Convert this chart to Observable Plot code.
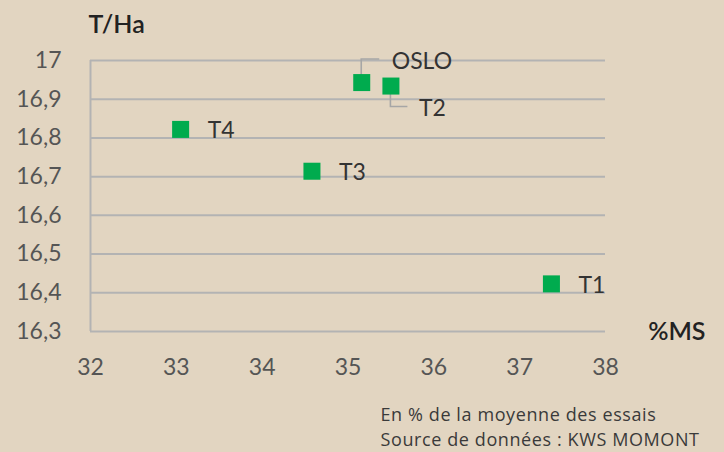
<!DOCTYPE html>
<html>
<head>
<meta charset="utf-8">
<script src="https://cdn.jsdelivr.net/npm/d3@7"></script>
<script src="https://cdn.jsdelivr.net/npm/@observablehq/plot@0.6"></script>
<style>
  html, body { margin: 0; padding: 0; background: #e2d5c1; }
  #chart svg { display: block; }
  .caption text { letter-spacing: 0.6px; }
</style>
</head>
<body>
<div id="chart"></div>
<script>
// Data
const names = ["OSLO", "T2", "T4", "T3", "T1"];
const ms = [35.16, 35.50, 33.05, 34.58, 37.37];
const tha = [16.943, 16.934, 16.822, 16.714, 16.423];
const xTicks = [32, 33, 34, 35, 36, 37, 38];
const yTicks = [16.3, 16.4, 16.5, 16.6, 16.7, 16.8, 16.9, 17];
const yLabel = "T/Ha";
const xLabel = "%MS";
const captionLines = ["En % de la moyenne des essais", "Source de données : KWS MOMONT"];

const pts = names.map((n, i) => ({name: n, x: ms[i], y: tha[i]}));
const fmt = d => String(d).replace(".", ",");

// label placement style (pixel offsets from point)
const callout = {OSLO: {dx: 30, dy: -22, lead: [[0, 0], [0, -23], [18, -23]]},
                 T2:   {dx: 28, dy: 22,  lead: [[0, 0], [0, 21], [17, 21]]}};
const plainDx = 27;

const leaders = (index, scales) => {
  const g = d3.create("svg:g");
  pts.forEach(p => {
    const c = callout[p.name];
    if (!c) return;
    const px = scales.x(p.x), py = scales.y(p.y);
    g.append("path")
      .attr("d", d3.line()(c.lead.map(([a, b]) => [px + a, py + b])))
      .attr("fill", "none").attr("stroke", "#a6a6a6").attr("stroke-width", 1.6);
  });
  return g.node();
};

const font = "Lato, 'Open Sans', sans-serif";

const chart = Plot.plot({
  width: 724,
  height: 452,
  marginLeft: 90,
  marginRight: 119,
  marginTop: 60,
  marginBottom: 121,
  style: {background: "#e2d5c1", fontFamily: font, overflow: "visible"},
  x: {domain: [32, 38]},
  y: {domain: [16.3, 17]},
  marks: [
    Plot.gridY(yTicks, {stroke: "#b3b3b3", strokeOpacity: 1, strokeWidth: 2}),
    Plot.ruleX([32], {stroke: "#b3b3b3", strokeWidth: 2}),
    Plot.axisX(xTicks, {tickSize: 0, tickPadding: 27, fontSize: 23, fill: "#555555", label: null, tickFormat: fmt}),
    Plot.axisY(yTicks, {tickSize: 0, tickPadding: 29, fontSize: 23, fill: "#555555", label: null, tickFormat: fmt}),
    leaders,
    Plot.dot(pts, {x: "x", y: "y", symbol: "square", r: 9.6, fill: "#00ab4e", stroke: "none"}),
    Plot.text(pts, {x: "x", y: "y", text: "name", textAnchor: "start",
      fontSize: 23, fill: "#333333",
      render: (index, scales, values, dims, context, next) => {
        const g = next(index, scales, values, dims, context);
        d3.select(g).selectAll("text").each(function(_, j) {
          const p = pts[index[j]];
          const c = callout[p.name];
          const dx = c ? c.dx : plainDx, dy = (c ? c.dy : 1) + 8;
          d3.select(this).attr("transform", `translate(${values.x[index[j]] + dx},${values.y[index[j]] + dy})`).attr("x", null).attr("y", null);
        });
        return g;
      }}),
    Plot.text([yLabel], {frameAnchor: "top-left", dx: -2, dy: -36, fontSize: 25, fontWeight: 600, fill: "#222222", textAnchor: "start", lineAnchor: "middle"}),
    Plot.text([xLabel], {frameAnchor: "bottom-right", dx: 100, dy: 0, fontSize: 25, fontWeight: 600, fill: "#222222", textAnchor: "end", lineAnchor: "middle"}),
    Plot.text([captionLines[0]], {className: "caption", frameAnchor: "bottom-left", dx: 290, dy: 84, fontSize: 18, fontFamily: "'Open Sans', sans-serif", fill: "#3a3a3a", textAnchor: "start", lineAnchor: "middle"}),
    Plot.text([captionLines[1]], {className: "caption", frameAnchor: "bottom-left", dx: 290, dy: 109, fontSize: 18, fontFamily: "'Open Sans', sans-serif", fill: "#3a3a3a", textAnchor: "start", lineAnchor: "middle"})
  ]
});
document.getElementById("chart").appendChild(chart);
</script>
</body>
</html>
